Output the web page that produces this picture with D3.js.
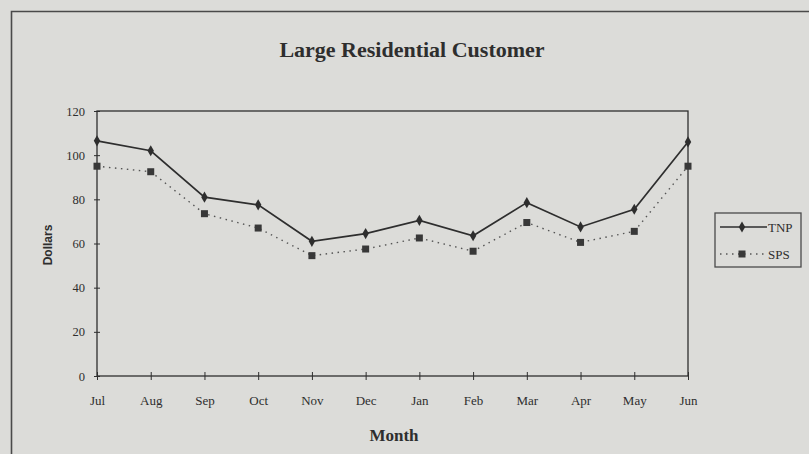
<!DOCTYPE html>
<html lang="en">
<head>
  <meta charset="UTF-8">
  <title>Large Residential Customer</title>
  <script src="https://d3js.org/d3.v7.min.js"></script>
  <style>
    body { margin: 0; background: #dcdcd9; }
    svg { display: block; }
  </style>
</head>
<body>
  <svg id="chart" width="809" height="454"></svg>
  <script>
    // data
    const months = ["Jul", "Aug", "Sep", "Oct", "Nov", "Dec", "Jan", "Feb", "Mar", "Apr", "May", "Jun"];
    const tnp = [106.5, 102, 81, 77.5, 61, 64.5, 70.5, 63.5, 78.5, 67.5, 75.5, 106];
    const sps = [95, 92.5, 73.5, 67, 54.5, 57.5, 62.5, 56.5, 69.5, 60.5, 65.5, 95];
    const yTicks = [0, 20, 40, 60, 80, 100, 120];
    const seriesNames = ["TNP", "SPS"];

    const ink = "#2e2e2e";
    const serif = "Liberation Serif, serif";
    const svg = d3.select("#chart");

    // plot area
    const plotLeft = 97, plotRight = 688, plotTop = 111, plotBottom = 376;

    const x = d3.scalePoint().domain(months).range([plotLeft, plotRight]).padding(0);
    const y = d3.scaleLinear().domain([0, 120]).range([plotBottom, plotTop]);

    // outer frame of the figure (runs off the page right/bottom)
    svg.append("path")
      .attr("d", "M11.5,460 V11.5 H820")
      .attr("fill", "none")
      .attr("stroke", "#4a4a4a")
      .attr("stroke-width", 1.6);

    // title
    svg.append("text")
      .attr("x", 412).attr("y", 57)
      .attr("text-anchor", "middle")
      .attr("font-family", serif)
      .attr("font-weight", "bold")
      .attr("font-size", 22)
      .attr("fill", ink)
      .text("Large Residential Customer");

    // plot box
    svg.append("rect")
      .attr("x", plotLeft).attr("y", plotTop)
      .attr("width", plotRight - plotLeft).attr("height", plotBottom - plotTop)
      .attr("fill", "none")
      .attr("stroke", ink)
      .attr("stroke-width", 1.3);

    // y axis
    const yAxis = svg.append("g")
      .attr("transform", `translate(${plotLeft},0)`)
      .call(d3.axisLeft(y).tickValues(yTicks).tickSize(0).tickPadding(12));
    yAxis.select(".domain").remove();
    yAxis.selectAll("text")
      .attr("font-family", serif)
      .attr("font-size", 12.5)
      .attr("fill", ink);
    yAxis.selectAll(".tick").append("line")
      .attr("x1", -3).attr("x2", 3)
      .attr("stroke", ink);

    // x axis
    const xAxis = svg.append("g")
      .attr("transform", `translate(0,${plotBottom})`)
      .call(d3.axisBottom(x).tickSize(0).tickPadding(20));
    xAxis.select(".domain").remove();
    xAxis.selectAll("text")
      .attr("font-family", serif)
      .attr("font-size", 13)
      .attr("fill", ink);
    xAxis.selectAll(".tick").append("line")
      .attr("y1", -4).attr("y2", 4)
      .attr("stroke", ink);

    // axis titles
    svg.append("text")
      .attr("transform", "translate(52,245) rotate(-90)")
      .attr("text-anchor", "middle")
      .attr("font-family", "Liberation Sans, sans-serif")
      .attr("font-weight", "bold")
      .attr("font-size", 12)
      .attr("fill", ink)
      .text("Dollars");

    svg.append("text")
      .attr("x", 394).attr("y", 441)
      .attr("text-anchor", "middle")
      .attr("font-family", serif)
      .attr("font-weight", "bold")
      .attr("font-size", 17)
      .attr("fill", ink)
      .text("Month");

    const line = d3.line()
      .x((d, i) => x(months[i]))
      .y(d => y(d));

    // SPS dotted with squares
    svg.append("path")
      .datum(sps)
      .attr("d", line)
      .attr("fill", "none")
      .attr("stroke", "#555")
      .attr("stroke-width", 1.4)
      .attr("stroke-dasharray", "1.5,4.5");
    svg.selectAll(".sps")
      .data(sps)
      .join("rect")
      .attr("x", (d, i) => x(months[i]) - 3.5)
      .attr("y", d => y(d) - 3.5)
      .attr("width", 7).attr("height", 7)
      .attr("fill", "#383838");

    // TNP solid with diamonds
    svg.append("path")
      .datum(tnp)
      .attr("d", line)
      .attr("fill", "none")
      .attr("stroke", ink)
      .attr("stroke-width", 1.7);
    const diamond = d3.symbol().type(d3.symbolDiamond).size(36);
    svg.selectAll(".tnp")
      .data(tnp)
      .join("path")
      .attr("d", diamond)
      .attr("transform", (d, i) => `translate(${x(months[i])},${y(d)})`)
      .attr("fill", ink);

    // legend
    const lg = svg.append("g");
    lg.append("rect")
      .attr("x", 715).attr("y", 213)
      .attr("width", 86).attr("height", 54)
      .attr("fill", "none")
      .attr("stroke", "#4a4a4a")
      .attr("stroke-width", 1.3);
    seriesNames.forEach((name, i) => {
      const ly = 227 + i * 27;
      lg.append("line")
        .attr("x1", 720).attr("x2", 767)
        .attr("y1", ly).attr("y2", ly)
        .attr("stroke", i === 0 ? ink : "#555")
        .attr("stroke-width", i === 0 ? 1.7 : 1.4)
        .attr("stroke-dasharray", i === 0 ? null : "1.5,4.5");
      if (i === 0) {
        lg.append("path").attr("d", diamond)
          .attr("transform", `translate(742,${ly})`)
          .attr("fill", ink);
      } else {
        lg.append("rect")
          .attr("x", 738.5).attr("y", ly - 3.5)
          .attr("width", 7).attr("height", 7)
          .attr("fill", "#383838");
      }
      lg.append("text")
        .attr("x", 768).attr("y", ly + 4.5)
        .attr("font-family", serif)
        .attr("font-size", 13)
        .attr("fill", ink)
        .text(name);
    });
  </script>
</body>
</html>
